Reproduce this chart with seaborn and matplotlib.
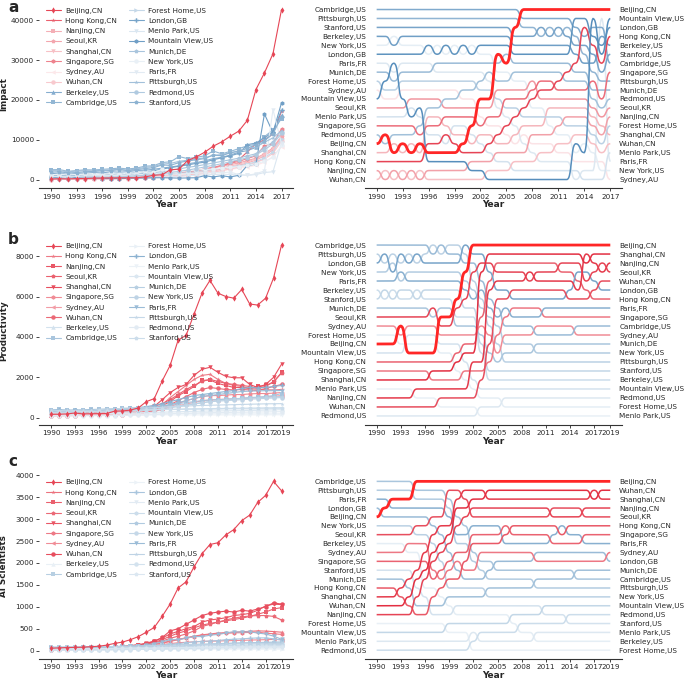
import numpy as np
import pandas as pd
import matplotlib
matplotlib.use("Agg")
import matplotlib.pyplot as plt
import seaborn as sns

sns.set_style("ticks")
plt.rcParams['font.family'] = ['DejaVu Sans']

# cities, in legend order (east first, then west)
cities = ["Beijing,CN", "Hong Kong,CN", "Nanjing,CN", "Seoul,KR", "Shanghai,CN",
          "Singapore,SG", "Sydney,AU", "Wuhan,CN",
          "Berkeley,US", "Cambridge,US", "Forest Home,US", "London,GB", "Menlo Park,US",
          "Mountain View,US", "Munich,DE", "New York,US", "Paris,FR", "Pittsburgh,US",
          "Redmond,US", "Stanford,US"]
east = cities[:8]
city_markers = ["d", "*", "s", "p", "v", "h", "<", "o",
                "^", "s", ">", "P", "v", "h", "p", "o", "v", "*", "o", "p"]

years_a = list(range(1990, 2018))
years_bc = list(range(1990, 2020))
xticks_a = list(range(1990, 2018, 3))
xticks_bc = list(range(1990, 2018, 3)) + [2019]

# a. Impact (1990-2017)
imp_beijing = [170, 250, 200, 280, 300, 380, 420, 450, 470, 490, 500, 700, 1100, 1250, 2500, 2650, 4800, 5700, 6900, 8400, 9500, 10900, 12200, 14900, 22600, 26800, 31600, 42700]
imp_hongkong = [110, 120, 150, 180, 220, 260, 430, 470, 500, 520, 450, 550, 600, 800, 1000, 1300, 1700, 2100, 2600, 3000, 3500, 4200, 5000, 7000, 9000, 10000, 11500, 17200]
imp_nanjing = [80, 70, 100, 110, 140, 150, 200, 240, 280, 320, 380, 450, 550, 650, 800, 1000, 1200, 1500, 1800, 2200, 2600, 3100, 3600, 4200, 4900, 6000, 7500, 10800]
imp_seoul = [350, 380, 400, 420, 450, 500, 550, 600, 650, 700, 800, 900, 1000, 1200, 1400, 1700, 2000, 2300, 2700, 3000, 3400, 3800, 4200, 4800, 5400, 6500, 8000, 11000]
imp_shanghai = [140, 150, 230, 260, 320, 340, 460, 500, 520, 540, 550, 600, 700, 850, 1000, 1200, 1500, 1800, 2100, 2500, 2900, 3400, 3900, 4500, 5200, 6300, 7800, 10000]
imp_singapore = [250, 280, 300, 330, 360, 400, 455, 500, 550, 600, 700, 800, 950, 1100, 1300, 1600, 1900, 2300, 2700, 3100, 3600, 4100, 4600, 5300, 6000, 8500, 9000, 12800]
imp_sydney = [500, 550, 580, 620, 660, 700, 720, 760, 800, 850, 900, 950, 1000, 1100, 1200, 1300, 1450, 1600, 1800, 2000, 2300, 2600, 2900, 3200, 3600, 4400, 5800, 8300]
imp_wuhan = [50, 75, 90, 120, 130, 160, 170, 200, 240, 280, 330, 400, 480, 560, 680, 850, 1050, 1300, 1600, 1900, 2300, 2700, 3200, 3700, 4300, 5200, 6600, 9700]
imp_berkeley = [1500, 1700, 1450, 1600, 1650, 1800, 1700, 2000, 1900, 2000, 2300, 2400, 2600, 2900, 3200, 3500, 4000, 4300, 4700, 5300, 5600, 6200, 6900, 7300, 8100, 9600, 12200, 16200]
imp_cambridge = [2500, 2550, 2100, 2300, 2500, 2450, 2600, 2750, 2900, 2700, 2900, 3400, 3500, 4300, 4500, 5800, 5300, 5600, 6000, 7200, 6500, 7100, 7800, 8500, 8900, 10800, 12500, 15300]
imp_foresthome = [600, 640, 700, 760, 780, 800, 850, 900, 950, 1000, 1050, 1100, 1200, 1300, 1400, 1600, 1800, 2000, 2300, 2600, 2900, 3200, 3500, 3900, 4500, 5500, 7000, 10300]
imp_london = [1000, 1100, 1150, 1050, 1200, 1250, 1300, 1500, 1400, 1600, 1800, 2000, 2200, 2700, 3000, 3400, 3700, 4100, 4400, 5000, 5500, 6000, 6600, 8800, 9200, 10500, 12000, 17500]
imp_menlopark = [300, 320, 350, 380, 400, 420, 450, 480, 500, 550, 600, 650, 700, 750, 800, 900, 1000, 1100, 1200, 1300, 1400, 1300, 1200, 1100, 1300, 1800, 2000, 9300]
imp_mountainview = [420, 700, 900, 500, 390, 450, 300, 280, 300, 330, 400, 450, 500, 500, 450, 400, 450, 500, 1000, 700, 1000, 700, 1100, 3600, 3900, 16500, 11800, 19300]
imp_munich = [700, 750, 800, 850, 900, 950, 1000, 1100, 1200, 1250, 1400, 1600, 1800, 2000, 2400, 2700, 3100, 3400, 3800, 4200, 4600, 5000, 5400, 6000, 6500, 8000, 9500, 12000]
imp_newyork = [1200, 1250, 1500, 1300, 1400, 1350, 1250, 1600, 1350, 1700, 1650, 2050, 1850, 2600, 2000, 2200, 2300, 2400, 2600, 2700, 2900, 3100, 3300, 3600, 4000, 4600, 5600, 8600]
imp_paris = [800, 850, 880, 900, 950, 1000, 1010, 1050, 1100, 1150, 1200, 1250, 1300, 1350, 1400, 1500, 1550, 1600, 1700, 1750, 1800, 1900, 1300, 1100, 1500, 2200, 17600, 9000]
imp_pittsburgh = [2300, 2250, 2000, 2150, 2300, 2200, 2400, 2500, 2600, 2400, 2700, 3100, 3300, 3900, 4100, 4600, 4900, 5200, 5500, 6100, 6300, 6700, 7300, 7900, 8200, 9400, 10500, 12300]
imp_redmond = [200, 220, 250, 300, 350, 410, 500, 600, 700, 800, 950, 1100, 1300, 1500, 1800, 2100, 2400, 2800, 3200, 3600, 4000, 4500, 5000, 5500, 6200, 7500, 9000, 11600]
imp_stanford = [1900, 2000, 1700, 1800, 2000, 2100, 2200, 2300, 2500, 2300, 2500, 2800, 3000, 3700, 3600, 4300, 4700, 5000, 5300, 6200, 6000, 6800, 7100, 7900, 8800, 9800, 11500, 15800]

# b. Productivity (1990-2019)
prod_beijing = [170, 175, 190, 235, 195, 200, 205, 210, 330, 340, 380, 490, 800, 950, 1830, 2600, 3850, 4080, 5130, 6170, 6800, 6170, 6000, 5920, 6350, 5630, 5580, 5920, 6920, 8550]
prod_hongkong = [150, 155, 160, 165, 175, 185, 190, 195, 200, 210, 230, 260, 300, 420, 650, 1000, 1300, 1600, 1900, 2100, 2150, 1900, 1700, 1600, 1550, 1450, 1410, 1390, 1380, 1400]
prod_nanjing = [110, 115, 120, 125, 130, 140, 150, 160, 170, 185, 200, 220, 260, 380, 600, 800, 1100, 1300, 1550, 1850, 1870, 1700, 1600, 1500, 1500, 1450, 1550, 1600, 1750, 2250]
prod_seoul = [220, 230, 240, 250, 260, 270, 290, 310, 325, 335, 360, 400, 480, 560, 700, 900, 1150, 1400, 1600, 1800, 1900, 1800, 1700, 1650, 1600, 1550, 1450, 1550, 1800, 2200]
prod_shanghai = [130, 135, 140, 150, 160, 170, 180, 190, 200, 210, 230, 250, 300, 560, 900, 1250, 1500, 1650, 2100, 2400, 2500, 2250, 2050, 1980, 1980, 1650, 1500, 1650, 2000, 2650]
prod_singapore = [140, 145, 150, 155, 165, 175, 185, 190, 195, 200, 210, 230, 260, 320, 420, 550, 700, 850, 950, 1050, 1100, 1100, 1120, 1150, 1150, 1180, 1200, 1200, 1220, 1250]
prod_sydney = [200, 210, 220, 215, 230, 240, 250, 260, 280, 300, 320, 340, 370, 410, 460, 520, 600, 680, 760, 840, 880, 900, 920, 940, 960, 980, 1000, 1020, 1060, 1100]
prod_wuhan = [100, 105, 108, 112, 118, 125, 130, 140, 150, 160, 170, 190, 220, 300, 450, 650, 850, 1050, 1250, 1400, 1500, 1450, 1400, 1380, 1400, 1380, 1350, 1450, 1550, 1650]
prod_berkeley = [290, 280, 300, 290, 300, 310, 320, 330, 340, 350, 360, 370, 380, 390, 400, 410, 410, 420, 420, 430, 430, 430, 440, 440, 440, 440, 445, 445, 450, 450]
prod_cambridge = [400, 410, 390, 380, 400, 410, 420, 430, 450, 460, 470, 495, 500, 550, 600, 650, 700, 750, 800, 850, 880, 900, 920, 940, 960, 1000, 1020, 1050, 1100, 1200]
prod_foresthome = [180, 185, 192, 195, 200, 205, 210, 212, 215, 218, 220, 222, 224, 226, 228, 220, 215, 210, 205, 200, 198, 196, 195, 194, 193, 194, 195, 196, 198, 200]
prod_london = [350, 370, 340, 375, 360, 390, 380, 400, 420, 440, 460, 505, 550, 620, 700, 800, 900, 1000, 1100, 1150, 1200, 1250, 1300, 1350, 1450, 1500, 1480, 1500, 1550, 1600]
prod_menlopark = [120, 125, 128, 132, 136, 140, 142, 145, 148, 150, 152, 150, 148, 146, 145, 145, 144, 143, 142, 142, 141, 140, 140, 141, 142, 143, 144, 145, 147, 150]
prod_mountainview = [160, 165, 170, 180, 210, 215, 220, 225, 230, 235, 240, 250, 260, 270, 280, 290, 300, 310, 320, 330, 335, 340, 345, 350, 355, 360, 370, 380, 390, 400]
prod_munich = [250, 260, 270, 280, 290, 295, 300, 310, 335, 345, 340, 360, 380, 400, 450, 500, 560, 620, 680, 740, 800, 850, 900, 930, 960, 980, 1000, 1010, 1030, 1050]
prod_newyork = [330, 340, 345, 330, 350, 360, 370, 380, 390, 400, 425, 440, 460, 480, 520, 560, 600, 650, 700, 750, 800, 820, 850, 870, 900, 920, 940, 960, 980, 1000]
prod_paris = [310, 320, 330, 340, 340, 345, 360, 370, 380, 390, 400, 420, 450, 500, 560, 650, 750, 850, 950, 1050, 1100, 1150, 1200, 1250, 1300, 1320, 1330, 1340, 1340, 1350]
prod_pittsburgh = [380, 360, 370, 360, 380, 370, 400, 440, 430, 470, 480, 500, 480, 500, 520, 540, 560, 580, 600, 610, 620, 630, 640, 650, 660, 670, 680, 690, 695, 700]
prod_redmond = [90, 92, 95, 98, 100, 102, 105, 108, 110, 115, 120, 130, 140, 160, 180, 200, 220, 230, 240, 250, 255, 260, 265, 270, 275, 280, 285, 290, 295, 300]
prod_stanford = [270, 290, 280, 300, 310, 300, 330, 340, 350, 360, 385, 380, 390, 400, 410, 420, 430, 440, 445, 450, 455, 460, 465, 470, 475, 480, 485, 490, 495, 500]

# c. AI scientists (1990-2019)
sci_beijing = [55, 62, 70, 74, 78, 90, 100, 125, 165, 195, 250, 320, 420, 530, 785, 1065, 1430, 1570, 1910, 2210, 2420, 2460, 2640, 2760, 2965, 3090, 3380, 3540, 3860, 3645]
sci_hongkong = [30, 31, 33, 35, 37, 40, 44, 50, 58, 68, 80, 95, 115, 140, 170, 210, 250, 290, 330, 360, 380, 400, 410, 420, 430, 440, 450, 445, 435, 420]
sci_nanjing = [21, 23, 27, 31, 36, 42, 50, 60, 72, 86, 102, 122, 150, 190, 250, 330, 400, 450, 520, 580, 620, 650, 680, 710, 740, 780, 830, 880, 950, 980]
sci_seoul = [45, 47, 50, 53, 56, 60, 65, 75, 85, 100, 115, 130, 150, 180, 220, 280, 330, 380, 450, 550, 600, 650, 700, 740, 770, 790, 800, 800, 780, 700]
sci_shanghai = [27, 29, 32, 36, 40, 46, 54, 64, 76, 90, 110, 135, 170, 220, 290, 380, 440, 500, 550, 650, 700, 720, 750, 800, 820, 850, 920, 1020, 1060, 1050]
sci_singapore = [37, 39, 41, 43, 45, 48, 52, 58, 65, 75, 85, 100, 120, 150, 180, 220, 260, 290, 320, 350, 370, 385, 395, 405, 410, 415, 420, 400, 385, 370]
sci_sydney = [40, 42, 44, 46, 48, 50, 55, 60, 65, 75, 85, 95, 105, 120, 140, 160, 180, 190, 200, 210, 215, 220, 225, 230, 235, 240, 245, 250, 255, 250]
sci_wuhan = [24, 26, 29, 33, 38, 44, 52, 62, 74, 88, 105, 125, 160, 210, 300, 450, 500, 600, 700, 800, 850, 880, 900, 880, 920, 900, 950, 1000, 1090, 1060]
sci_berkeley = [42, 44, 46, 47, 48, 49, 50, 51, 52, 52, 53, 53, 54, 54, 55, 55, 55, 55, 54, 54, 53, 53, 52, 52, 51, 51, 50, 50, 50, 50]
sci_cambridge = [80, 82, 84, 85, 86, 88, 90, 92, 95, 100, 105, 110, 115, 120, 125, 130, 135, 140, 145, 150, 155, 160, 165, 170, 175, 178, 180, 182, 180, 180]
sci_foresthome = [18, 19, 21, 20, 22, 23, 25, 24, 26, 27, 28, 29, 29, 30, 31, 30, 31, 32, 31, 30, 31, 32, 31, 30, 31, 30, 31, 32, 31, 30]
sci_london = [60, 60, 62, 64, 66, 68, 70, 72, 75, 78, 82, 88, 95, 105, 120, 140, 160, 180, 200, 210, 220, 230, 250, 260, 270, 280, 290, 290, 270, 240]
sci_menlopark = [12, 13, 14, 15, 16, 17, 18, 20, 22, 24, 26, 28, 30, 33, 36, 39, 42, 45, 48, 51, 54, 57, 60, 62, 64, 66, 67, 68, 69, 70]
sci_mountainview = [15, 16, 17, 18, 19, 20, 22, 24, 26, 28, 30, 33, 36, 40, 45, 50, 55, 60, 65, 70, 75, 80, 85, 90, 95, 100, 105, 110, 115, 120]
sci_munich = [32, 34, 36, 38, 40, 42, 45, 48, 52, 56, 60, 65, 70, 76, 82, 90, 100, 110, 120, 130, 140, 150, 160, 170, 175, 180, 185, 190, 195, 200]
sci_newyork = [50, 52, 54, 56, 58, 60, 62, 64, 66, 68, 70, 72, 75, 78, 80, 85, 90, 95, 100, 105, 110, 115, 118, 120, 123, 126, 130, 135, 138, 140]
sci_paris = [65, 68, 66, 70, 72, 75, 80, 85, 90, 95, 100, 110, 130, 160, 200, 250, 250, 280, 320, 320, 350, 370, 400, 430, 420, 430, 400, 380, 330, 260]
sci_pittsburgh = [75, 77, 79, 81, 82, 85, 87, 90, 93, 96, 100, 104, 108, 112, 116, 120, 124, 128, 132, 136, 140, 143, 146, 149, 152, 155, 157, 159, 160, 160]
sci_redmond = [10, 11, 12, 13, 14, 15, 16, 18, 20, 22, 24, 27, 30, 34, 38, 42, 46, 50, 55, 60, 65, 70, 75, 80, 85, 88, 92, 95, 98, 100]
sci_stanford = [35, 36, 39, 40, 43, 44, 47, 48, 51, 52, 55, 58, 58, 60, 64, 65, 68, 70, 70, 73, 76, 77, 78, 82, 83, 84, 88, 87, 89, 90]

impact = [imp_beijing, imp_hongkong, imp_nanjing, imp_seoul, imp_shanghai, imp_singapore,
          imp_sydney, imp_wuhan, imp_berkeley, imp_cambridge, imp_foresthome, imp_london,
          imp_menlopark, imp_mountainview, imp_munich, imp_newyork, imp_paris,
          imp_pittsburgh, imp_redmond, imp_stanford]
productivity = [prod_beijing, prod_hongkong, prod_nanjing, prod_seoul, prod_shanghai,
                prod_singapore, prod_sydney, prod_wuhan, prod_berkeley, prod_cambridge,
                prod_foresthome, prod_london, prod_menlopark, prod_mountainview, prod_munich,
                prod_newyork, prod_paris, prod_pittsburgh, prod_redmond, prod_stanford]
scientists = [sci_beijing, sci_hongkong, sci_nanjing, sci_seoul, sci_shanghai, sci_singapore,
              sci_sydney, sci_wuhan, sci_berkeley, sci_cambridge, sci_foresthome, sci_london,
              sci_menlopark, sci_mountainview, sci_munich, sci_newyork, sci_paris,
              sci_pittsburgh, sci_redmond, sci_stanford]

RED = (0.88, 0.10, 0.18)
BLUE = (0.27, 0.51, 0.71)
TXT = "#262626"


def make_table(years, series):
    rows = []
    for city, vals in zip(cities, series):
        assert len(vals) == len(years), city
        for y, v in zip(years, vals):
            rows.append((city, y, v))
    df = pd.DataFrame(rows, columns=["city", "year", "value"])
    df["rank"] = df.groupby("year")["value"].rank(ascending=False, method="first")
    return df


def shade(city, r, scale=1.0):
    base = RED if city in east else BLUE
    a = max(0.12, 0.95 - 0.045 * (r - 1)) * scale
    return tuple(a * c + (1 - a) for c in base)


def style_axis(ax):
    for s in ["left", "top", "right"]:
        ax.spines[s].set_visible(False)
    ax.spines["bottom"].set_linewidth(0.8)
    ax.spines["bottom"].set_color("#333333")
    ax.tick_params(labelsize=5.2, length=2.5, width=0.6, pad=1.5, colors=TXT)


# s-curve used to draw each rank swap between two years
S = np.linspace(0, 1, 30)
F = (np.tanh(4.5 * (S - 0.5)) / np.tanh(2.25) + 1) / 2

fig = plt.figure(figsize=(6.85, 6.79), dpi=100)
rows = [
    ("a", "Impact", years_a, impact, xticks_a, None, 0.7231, 0.2754, 1 - 12 / 679),
    ("b", "Productivity", years_bc, productivity, xticks_bc, None, 0.3748, 0.2769, 1 - 244 / 679),
    ("c", "AI Scientists", years_bc, scientists, xticks_bc, list(range(0, 4001, 500)), 0.0300, 0.2735, 1 - 466 / 679),
]

for letter, ylabel, years, series, xt, yt, bottom, height, ty in rows:
    df = make_table(years, series)
    last = df[df.year == years[-1]].set_index("city")["rank"]
    first = df[df.year == years[0]].sort_values("rank")["city"].tolist()
    end_order = df[df.year == years[-1]].sort_values("rank")["city"].tolist()
    span = years[-1] - years[0]
    xlim = (years[0] - 0.05 * span, years[-1] + 0.05 * span)

    # left: raw values
    ax = fig.add_axes([0.0575, bottom, 0.3703, height])
    pal = {c: shade(c, last[c], 0.85) for c in cities}
    sns.lineplot(data=df, x="year", y="value", hue="city", style="city",
                 hue_order=cities, style_order=cities, palette=pal,
                 markers=dict(zip(cities, city_markers)), dashes=False,
                 lw=0.8, markersize=3.2, mew=0, ax=ax)
    if len(ax.lines) >= 1:
        ax.lines[0].set_zorder(5)
    sns.move_legend(ax, "upper left", ncol=2, frameon=False, fontsize=5.2, title=None,
                    labelspacing=0.58, handlelength=2.1, handletextpad=0.6,
                    columnspacing=1.6, borderaxespad=0.5)
    style_axis(ax)
    ax.set_xlim(xlim)
    ax.set_xticks(xt)
    if yt is not None:
        ax.set_yticks(yt)
    ax.set_xlabel("Year", fontsize=6.5, fontweight="bold", labelpad=0.5, color=TXT)
    ax.set_ylabel(ylabel, fontsize=6.3, fontweight="bold", color=TXT)
    ax.yaxis.set_label_coords(-0.122, 0.5)
    fig.text(0.012, ty, letter, fontsize=11, fontweight="bold", va="baseline")

    # right: rank flows
    bx = fig.add_axes([0.5328, bottom, 0.3752, height])
    order = sorted(cities, key=lambda c: -last[c])
    for city in order:
        sub = df[df.city == city].sort_values("year")
        yr = sub["year"].to_numpy()
        rk = sub["rank"].to_numpy()
        xs = np.concatenate([yr[i] + S for i in range(len(yr) - 1)])
        ys = np.concatenate([rk[i] + (rk[i + 1] - rk[i]) * F for i in range(len(yr) - 1)])
        if city == "Beijing,CN":
            bx.plot(xs, ys, color="#ff2626", lw=2.0, zorder=5, solid_capstyle="butt")
        else:
            bx.plot(xs, ys, color=shade(city, last[city]), lw=1.1, solid_capstyle="butt")
    style_axis(bx)
    bx.set_xlim(xlim)
    bx.set_ylim(20.95, 0.05)
    bx.set_xticks(xt)
    bx.set_yticks(range(1, 21))
    bx.set_yticklabels(first)
    bx.tick_params(axis="y", length=0, pad=-1)
    bx.set_xlabel("Year", fontsize=6.5, fontweight="bold", labelpad=0.5, color=TXT)
    tw = bx.twinx()
    for s in ["left", "top", "right", "bottom"]:
        tw.spines[s].set_visible(False)
    tw.set_ylim(20.95, 0.05)
    tw.set_yticks(range(1, 21))
    tw.set_yticklabels(end_order)
    tw.tick_params(axis="y", length=0, pad=-2, labelsize=5.2, colors=TXT)

fig.savefig("out.png", dpi=100)
